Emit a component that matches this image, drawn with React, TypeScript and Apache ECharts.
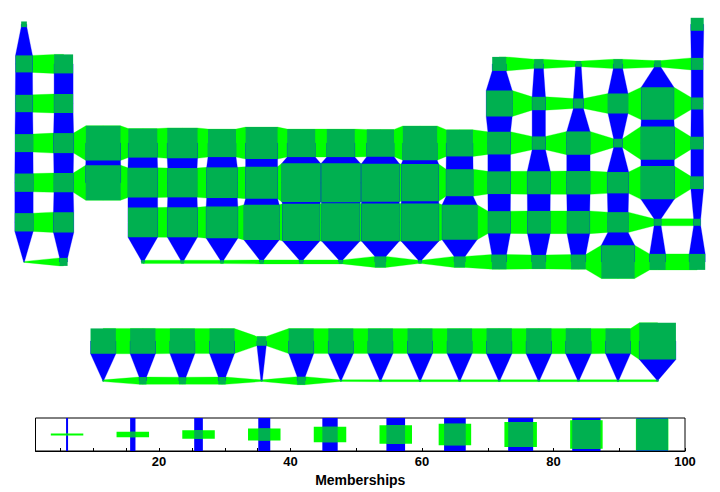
import React, { useEffect, useRef } from "react";
import * as echarts from "echarts";

// Element symbols in order of atomic number
const symbols = [
  "H","He","Li","Be","B","C","N","O","F","Ne","Na","Mg","Al","Si","P","S","Cl","Ar",
  "K","Ca","Sc","Ti","V","Cr","Mn","Fe","Co","Ni","Cu","Zn","Ga","Ge","As","Se","Br","Kr",
  "Rb","Sr","Y","Zr","Nb","Mo","Tc","Ru","Rh","Pd","Ag","Cd","In","Sn","Sb","Te","I","Xe",
  "Cs","Ba","La","Ce","Pr","Nd","Pm","Sm","Eu","Gd","Tb","Dy","Ho","Er","Tm","Yb","Lu",
  "Hf","Ta","W","Re","Os","Ir","Pt","Au","Hg","Tl","Pb","Bi","Po","At","Rn",
  "Fr","Ra","Ac","Th","Pa","U","Np","Pu","Am","Cm","Bk","Cf","Es","Fm","Md","No","Lr",
  "Rf","Db","Sg","Bh","Hs","Mt","Ds","Rg","Cn","Nh","Fl","Mc","Lv","Ts","Og",
];

// Memberships per element (atomic number order)
const memberships = [
  17, 39, 51, 57, 42, 28, 17, 28, 20, 36, 52, 57, 78, 40, 30, 60, 98, 36,
  54, 60, 104, 87, 91, 84, 96, 84, 84, 82, 103, 80, 68, 40, 70, 26, 100, 38,
  55, 58, 105, 89, 88, 92, 96, 116, 117, 114, 112, 81, 68, 69, 70, 64, 100, 38,
  55, 61, 76, 76, 75, 75, 28, 75, 75, 75, 75, 75, 76, 76, 76, 75, 110,
  89, 90, 95, 106, 112, 114, 113, 113, 105, 67, 68, 68, 61, 21, 21,
  3, 24, 5, 22, 21, 22, 5, 24, 5, 6, 6, 6, 6, 6, 6, 6, 6,
  10, 10, 10, 12, 12, 12, 33, 10, 33, 44, 42, 44, 100, 48, 48,
];

// Legend
const legendValues = [6, 16, 26, 36, 46, 56, 65, 75, 85, 95];
const legendTicks = [5, 10, 15, 20, 25, 30, 35, 40, 45, 50, 55, 60, 65, 70, 75, 80, 85, 90, 95, 100];
const legendLabels = [20, 40, 60, 80, 100];
const legendTitle = "Memberships";

const PX_PER_MEMBERSHIP = 1 / 3;
const DARK = "#00B050";
const LIGHT = "#00FF00";
const BLUE = "#0000FF";
const FONT = "Liberation Sans, Arial, sans-serif";

function position(z: number): [number, number] {
  if (z === 1) return [1, 1];
  if (z === 2) return [18, 1];
  if (z <= 10) return z <= 4 ? [z - 2, 2] : [z + 8, 2];
  if (z <= 18) return z <= 12 ? [z - 10, 3] : [z, 3];
  if (z <= 36) return [z - 18, 4];
  if (z <= 54) return [z - 36, 5];
  if (z <= 56) return [z - 54, 6];
  if (z <= 71) return [z - 54, 9];
  if (z <= 86) return [z - 68, 6];
  if (z <= 88) return [z - 86, 7];
  if (z <= 103) return [z - 86, 10];
  return [z - 100, 7];
}

export default function App() {
  const ref = useRef<HTMLDivElement>(null);

  useEffect(() => {
    if (!ref.current) return;
    const chart = echarts.init(ref.current, undefined, { renderer: "svg" });

    const nodes = symbols.map((sym, i) => {
      const [c, r] = position(i + 1);
      return { name: sym, value: [c, r, memberships[i]] };
    });
    const lookup = new Map<string, number>();
    nodes.forEach((n) => lookup.set(`${n.value[0]},${n.value[1]}`, n.value[2]));
    const hLinks: number[][] = [];
    const vLinks: number[][] = [];
    nodes.forEach((n) => {
      const [c, r, m] = n.value;
      const right = lookup.get(`${c + 1},${r}`);
      if (right !== undefined) hLinks.push([c, r, m, right]);
      const below = lookup.get(`${c},${r + 1}`);
      if (below !== undefined) vLinks.push([c, r, m, below]);
    });

    const option: any = {
      animation: false,
      grid: [
        { left: 4.2, top: 4.5, width: 712.8, height: 396, show: false, outerBoundsMode: "none" },
        {
          left: 35.5, top: 418, width: 649.5, height: 33, show: true,
          borderColor: "#000", borderWidth: 1, backgroundColor: "transparent", outerBoundsMode: "none",
        },
      ],
      xAxis: [
        { gridIndex: 0, type: "value", min: 0.5, max: 18.5, show: false },
        {
          gridIndex: 1, type: "value", min: 1.2, max: 100, position: "bottom",
          axisLine: { show: true, lineStyle: { color: "#000", width: 1 } },
          axisTick: { show: true, inside: true, length: 3, customValues: legendTicks, lineStyle: { color: "#000" } },
          axisLabel: {
            show: true, customValues: legendLabels, margin: 4, color: "#000",
            fontWeight: "bold", fontSize: 13, fontFamily: FONT,
          },
          splitLine: { show: false },
          name: legendTitle, nameLocation: "middle", nameGap: 22,
          nameTextStyle: { color: "#000", fontWeight: "bold", fontSize: 14, fontFamily: FONT },
        },
      ],
      yAxis: [
        { gridIndex: 0, type: "value", min: 0.5, max: 10.5, inverse: true, show: false },
        { gridIndex: 1, type: "value", min: 0, max: 1, show: false },
      ],
      series: [
        {
          type: "custom",
          xAxisIndex: 0, yAxisIndex: 0,
          data: hLinks,
          silent: true,
          renderItem: (params: any, api: any) => {
            const c = api.value(0), r = api.value(1);
            const s1 = api.value(2) * PX_PER_MEMBERSHIP;
            const s2 = api.value(3) * PX_PER_MEMBERSHIP;
            const p1 = api.coord([c, r]);
            const p2 = api.coord([c + 1, r]);
            const y1 = p1[1], y2 = p2[1];
            return {
              type: "polygon",
              shape: {
                points: [
                  [p1[0], y1 - s1 / 2], [p1[0] + s1 / 2, y1 - s1 / 2],
                  [p2[0] - s2 / 2, y2 - s2 / 2], [p2[0], y2 - s2 / 2],
                  [p2[0], y2 + s2 / 2], [p2[0] - s2 / 2, y2 + s2 / 2],
                  [p1[0] + s1 / 2, y1 + s1 / 2], [p1[0], y1 + s1 / 2],
                ],
              },
              style: { fill: LIGHT, stroke: LIGHT, lineWidth: 0.3 },
            };
          },
        },
        {
          type: "custom",
          xAxisIndex: 0, yAxisIndex: 0,
          data: vLinks,
          silent: true,
          renderItem: (params: any, api: any) => {
            const c = api.value(0), r = api.value(1);
            const s1 = api.value(2) * PX_PER_MEMBERSHIP;
            const s2 = api.value(3) * PX_PER_MEMBERSHIP;
            const p1 = api.coord([c, r]);
            const p2 = api.coord([c, r + 1]);
            const x1 = p1[0], x2 = p2[0];
            return {
              type: "polygon",
              shape: {
                points: [
                  [x1 - s1 / 2, p1[1]], [x1 - s1 / 2, p1[1] + s1 / 2],
                  [x2 - s2 / 2, p2[1] - s2 / 2], [x2 - s2 / 2, p2[1]],
                  [x2 + s2 / 2, p2[1]], [x2 + s2 / 2, p2[1] - s2 / 2],
                  [x1 + s1 / 2, p1[1] + s1 / 2], [x1 + s1 / 2, p1[1]],
                ],
              },
              style: { fill: BLUE, stroke: BLUE, lineWidth: 0.3 },
            };
          },
        },
        {
          type: "custom",
          xAxisIndex: 0, yAxisIndex: 0,
          data: nodes,
          silent: true,
          renderItem: (params: any, api: any) => {
            const p = api.coord([api.value(0), api.value(1)]);
            const s = api.value(2) * PX_PER_MEMBERSHIP;
            return {
              type: "rect",
              shape: { x: p[0] - s / 2, y: p[1] - s / 2, width: s, height: s },
              style: { fill: DARK },
            };
          },
        },
        {
          type: "custom",
          xAxisIndex: 1, yAxisIndex: 1,
          data: legendValues.map((v) => [v, 0.5]),
          silent: true,
          renderItem: (params: any, api: any) => {
            const v = api.value(0);
            const s = v * PX_PER_MEMBERSHIP;
            const p = api.coord([v, 0.5]);
            const top = api.coord([v, 1])[1];
            const bottom = api.coord([v, 0])[1];
            const barW = 32.5;
            return {
              type: "group",
              children: [
                { type: "rect", shape: { x: p[0] - s / 2, y: top, width: s, height: bottom - top }, style: { fill: BLUE } },
                { type: "rect", shape: { x: p[0] - barW / 2, y: p[1] - s / 2, width: barW, height: s }, style: { fill: LIGHT } },
                { type: "rect", shape: { x: p[0] - s / 2, y: p[1] - s / 2, width: s, height: s }, style: { fill: DARK } },
              ],
            };
          },
        },
      ],
    };

    chart.setOption(option);
    return () => chart.dispose();
  }, []);

  return (
    <div
      ref={ref}
      style={{ position: "absolute", left: 0, top: 0, width: 720, height: 492, background: "#fff" }}
    />
  );
}
